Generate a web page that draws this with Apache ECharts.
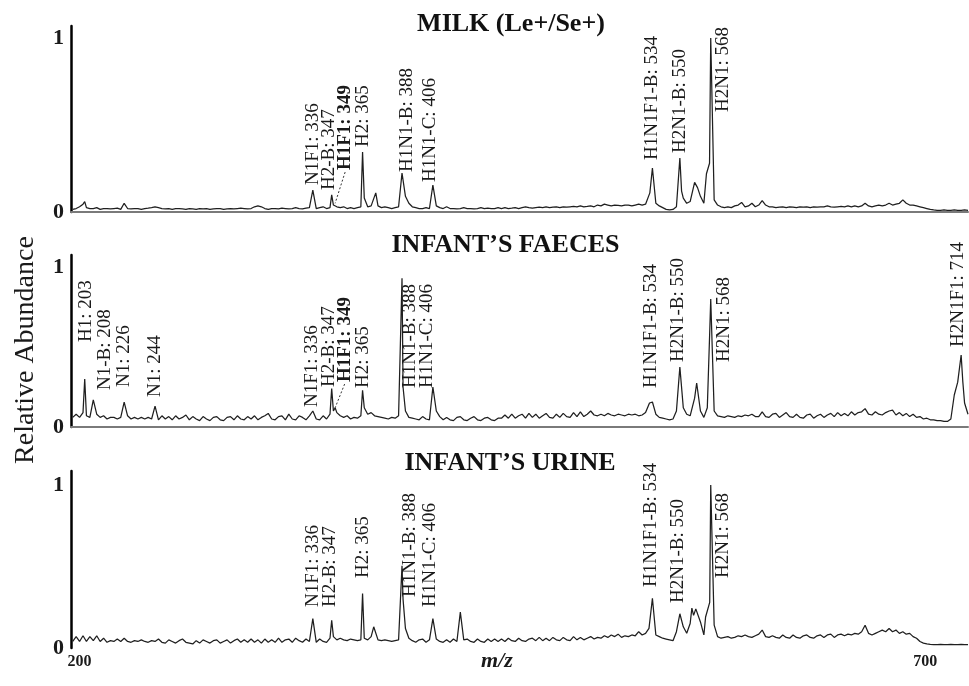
<!DOCTYPE html>
<html>
<head>
<meta charset="utf-8">
<script src="https://cdn.jsdelivr.net/npm/echarts@6/dist/echarts.min.js"></script>
<style>
html, body { margin: 0; padding: 0; background: #fff; }
#chart { width: 969px; height: 686px; }
</style>
</head>
<body>
<div id="chart"></div>
<script>
// m/z window shared by the three spectra
const MZ_MIN = 195;
const MZ_MAX = 718;
const MZ_TICKS = [200, 700];
const ABUNDANCE_TICKS = [0, 1];

// Baseline traces are sampled every 2 m/z starting at 196
const TRACE_START = 196;
const TRACE_STEP = 2;

// ---- MILK (Le+/Se+) ----
const milkTrace = [
  0.015,0.02,0.03,0.045,0.025,0.02,0.02,0.025,0.015,0.02,0.02,0.018,0.02,0.022,0.015,0.045,0.02,0.018,0.02,0.02,0.015,0.02,0.022,0.025,0.03,
  0.025,0.02,0.018,0.02,0.015,0.02,0.02,0.018,0.015,0.02,0.018,0.015,0.02,0.018,0.02,0.015,0.018,0.02,0.02,0.015,0.018,0.02,0.018,0.02,0.022,
  0.02,0.018,0.02,0.03,0.035,0.03,0.02,0.015,0.02,0.02,0.018,0.022,0.02,0.018,0.02,0.025,0.02,0.018,0.022,0.025,0.03,0.02,0.025,0.03,0.02,
  0.025,0.04,0.03,0.025,0.03,0.02,0.025,0.02,0.025,0.03,0.05,0.03,0.035,0.06,0.035,0.025,0.03,0.025,0.02,0.025,0.03,0.05,0.09,0.05,0.03,
  0.025,0.02,0.02,0.025,0.02,0.02,0.035,0.025,0.02,0.03,0.02,0.02,0.018,0.02,0.025,0.02,0.02,0.018,0.02,0.025,0.02,0.022,0.02,0.02,0.025,
  0.02,0.025,0.02,0.022,0.025,0.02,0.025,0.03,0.025,0.022,0.025,0.028,0.025,0.03,0.025,0.028,0.03,0.025,0.03,0.028,0.03,0.032,0.03,0.035,0.03,
  0.032,0.035,0.03,0.04,0.035,0.045,0.04,0.035,0.04,0.038,0.035,0.04,0.04,0.035,0.04,0.045,0.04,0.045,0.1,0.11,0.05,0.035,0.025,0.015,0.012,
  0.015,0.03,0.05,0.08,0.05,0.06,0.07,0.08,0.09,0.05,0.06,0.1,0.07,0.04,0.03,0.025,0.03,0.025,0.035,0.04,0.055,0.03,0.035,0.05,0.03,
  0.04,0.065,0.04,0.03,0.03,0.025,0.028,0.03,0.025,0.03,0.028,0.025,0.03,0.028,0.03,0.025,0.03,0.028,0.03,0.03,0.035,0.03,0.028,0.03,0.032,
  0.03,0.035,0.03,0.035,0.03,0.035,0.05,0.035,0.03,0.035,0.04,0.035,0.04,0.05,0.04,0.045,0.05,0.07,0.05,0.04,0.04,0.035,0.03,0.025,0.02,
  0.015,0.012,0.01,0.01,0.012,0.01,0.01,0.012,0.01,0.01,0.012,0.01
];
const milkPeaks = [
  [203,0.06],[226,0.05],[336,0.126],[347,0.098],[349,0.05],[365,0.345],[366,0.08],[372.7,0.11],
  [388,0.224],[406,0.155],[532.5,0.11],[534,0.253],[550,0.31],[551,0.12],[558.6,0.17],[560.3,0.14],
  [565.5,0.22],[567.3,0.28],[568,1.0]
];
const milkLabels = [
  ['N1F1', 336], ['H2-B', 347], ['H1F1', 349], ['H2', 365], ['H1N1-B', 388],
  ['H1N1-C', 406], ['H1N1F1-B', 534], ['H2N1-B', 550], ['H2N1', 568]
];

// ---- INFANT'S FAECES ----
const faecesTrace = [
  0.06,0.08,0.06,0.09,0.07,0.06,0.07,0.08,0.06,0.07,0.05,0.06,0.06,0.05,0.06,0.07,0.07,0.05,0.06,0.05,0.06,0.05,0.06,0.05,0.06,
  0.045,0.07,0.05,0.065,0.045,0.07,0.05,0.06,0.075,0.045,0.065,0.05,0.04,0.065,0.05,0.04,0.06,0.065,0.045,0.04,0.06,0.065,0.045,0.07,0.05,
  0.045,0.065,0.05,0.07,0.045,0.06,0.07,0.085,0.05,0.045,0.065,0.07,0.045,0.08,0.05,0.045,0.07,0.06,0.045,0.07,0.06,0.05,0.045,0.07,0.05,
  0.08,0.1,0.09,0.07,0.06,0.07,0.05,0.06,0.055,0.07,0.12,0.08,0.09,0.07,0.065,0.06,0.055,0.05,0.06,0.055,0.07,0.2,0.1,0.06,0.055,
  0.05,0.045,0.065,0.05,0.045,0.06,0.1,0.065,0.045,0.06,0.045,0.04,0.06,0.065,0.045,0.04,0.055,0.065,0.045,0.04,0.055,0.06,0.045,0.04,0.055,
  0.055,0.075,0.055,0.08,0.055,0.07,0.08,0.055,0.085,0.06,0.08,0.055,0.07,0.085,0.06,0.055,0.08,0.06,0.085,0.065,0.06,0.09,0.065,0.095,0.065,
  0.08,0.1,0.075,0.07,0.08,0.07,0.085,0.075,0.07,0.08,0.075,0.07,0.08,0.075,0.08,0.07,0.075,0.09,0.1,0.1,0.08,0.06,0.055,0.05,0.045,
  0.05,0.1,0.1,0.12,0.08,0.07,0.12,0.1,0.1,0.06,0.12,0.1,0.1,0.07,0.065,0.06,0.07,0.065,0.06,0.07,0.065,0.075,0.07,0.08,0.065,
  0.065,0.095,0.065,0.06,0.08,0.085,0.06,0.075,0.09,0.065,0.06,0.08,0.06,0.055,0.075,0.08,0.055,0.07,0.08,0.06,0.075,0.085,0.065,0.09,0.07,
  0.085,0.07,0.095,0.075,0.09,0.095,0.115,0.08,0.075,0.095,0.08,0.075,0.09,0.1,0.105,0.075,0.09,0.07,0.085,0.065,0.08,0.06,0.065,0.05,0.055,
  0.045,0.045,0.04,0.04,0.035,0.035,0.05,0.2,0.1,0.1,0.15,0.08
];
const faecesPeaks = [
  [203,0.30],[208,0.17],[226,0.156],[244,0.13],[336,0.10],[347,0.24],[349,0.12],[365,0.23],
  [388,0.93],[388.6,0.25],[406,0.25],[532.3,0.15],[534,0.156],[550,0.375],[558.6,0.18],[559.8,0.275],
  [567.4,0.59],[568,0.80],[712,0.28],[714,0.45],[715,0.28]
];
const faecesLabels = [
  ['H1', 203], ['N1-B', 208], ['N1', 226], ['N1', 244], ['N1F1', 336], ['H2-B', 347], ['H1F1', 349],
  ['H2', 365], ['H1N1-B', 388], ['H1N1-C', 406], ['H1N1F1-B', 534], ['H2N1-B', 550], ['H2N1', 568], ['H2N1F1', 714]
];

// ---- INFANT'S URINE ----
const urineTrace = [
  0.04,0.07,0.04,0.075,0.04,0.07,0.045,0.075,0.04,0.06,0.035,0.045,0.04,0.055,0.04,0.06,0.04,0.035,0.045,0.04,0.05,0.04,0.035,0.045,0.04,
  0.055,0.035,0.03,0.05,0.04,0.03,0.045,0.055,0.035,0.03,0.025,0.045,0.03,0.05,0.04,0.03,0.045,0.05,0.03,0.04,0.05,0.03,0.045,0.055,0.035,
  0.05,0.035,0.055,0.035,0.05,0.03,0.055,0.035,0.05,0.035,0.06,0.035,0.05,0.055,0.035,0.06,0.045,0.035,0.055,0.04,0.06,0.035,0.055,0.04,0.035,
  0.06,0.07,0.05,0.06,0.05,0.045,0.055,0.05,0.045,0.05,0.06,0.05,0.07,0.06,0.05,0.045,0.05,0.045,0.04,0.045,0.05,0.1,0.12,0.06,0.045,
  0.035,0.05,0.055,0.035,0.05,0.04,0.055,0.04,0.035,0.05,0.035,0.055,0.04,0.035,0.05,0.055,0.04,0.035,0.055,0.04,0.035,0.055,0.04,0.055,0.04,
  0.055,0.04,0.06,0.045,0.04,0.06,0.045,0.04,0.055,0.06,0.045,0.065,0.045,0.06,0.045,0.065,0.05,0.045,0.065,0.05,0.045,0.07,0.05,0.065,0.05,
  0.06,0.07,0.055,0.065,0.06,0.075,0.065,0.08,0.07,0.085,0.065,0.075,0.07,0.08,0.075,0.1,0.08,0.09,0.12,0.1,0.08,0.07,0.06,0.055,0.05,
  0.045,0.1,0.1,0.13,0.09,0.15,0.2,0.22,0.16,0.08,0.18,0.1,0.14,0.07,0.06,0.065,0.07,0.06,0.065,0.075,0.07,0.08,0.07,0.065,0.075,
  0.085,0.11,0.07,0.065,0.075,0.065,0.06,0.08,0.065,0.06,0.08,0.065,0.06,0.075,0.08,0.065,0.06,0.075,0.08,0.065,0.08,0.085,0.065,0.08,0.085,
  0.075,0.085,0.08,0.09,0.085,0.1,0.14,0.09,0.08,0.09,0.1,0.11,0.1,0.12,0.1,0.11,0.09,0.1,0.085,0.09,0.07,0.06,0.04,0.03,0.025,
  0.022,0.02,0.02,0.022,0.02,0.02,0.022,0.02,0.02,0.022,0.02,0.02
];
const urinePeaks = [
  [336,0.18],[347,0.17],[365,0.335],[371.5,0.13],[388,0.505],[388.6,0.3],[406,0.18],[422,0.22],
  [534,0.305],[550,0.21],[557,0.245],[559.3,0.24],[565,0.19],[567.4,0.28],[568,1.0]
];
const urineLabels = [
  ['N1F1', 336], ['H2-B', 347], ['H2', 365], ['H1N1-B', 388], ['H1N1-C', 406],
  ['H1N1F1-B', 534], ['H2N1-B', 550], ['H2N1', 568]
];

// Annotation placement: height of the label foot (abundance units) and sideways nudge (px)
const milkLabelPlace = [[0.155,0],[0.126,-3],[0.241,10],[0.374,0],[0.23,5],[0.172,-3],[0.299,0],[0.339,0],[0.575,12]];
const faecesLabelPlace = [[0.531,1],[0.231,12],[0.25,0],[0.1875,0],[0.125,-1],[0.25,-3],[0.281,9.5],[0.244,0],[0.244,8.5],[0.244,-5.5],[0.244,-1],[0.406,-1.5],[0.406,13],[0.5,-3]];
const urineLabelPlace = [[0.252,0],[0.252,-2],[0.43,0],[0.313,8.5],[0.252,-2.5],[0.374,-1],[0.276,-1.5],[0.43,12]];

const SERIF = '"Liberation Serif", "Times New Roman", serif';
const INK = '#1a1a1a';

const panels = [
  { title: 'MILK (Le+/Se+)', trace: milkTrace, peaks: milkPeaks, labels: milkLabels, place: milkLabelPlace,
    grid: { top: 26, height: 186 }, yMax: 1.069, titlePos: [511, 24], baseLine: true, mzLabels: false },
  { title: 'INFANT\u2019S FAECES', trace: faecesTrace, peaks: faecesPeaks, labels: faecesLabels, place: faecesLabelPlace,
    grid: { top: 255, height: 172 }, yMax: 1.075, titlePos: [505.5, 245], baseLine: true, mzLabels: false },
  { title: 'INFANT\u2019S URINE', trace: urineTrace, peaks: urinePeaks, labels: urineLabels, place: urineLabelPlace,
    grid: { top: 471, height: 177 }, yMax: 1.086, titlePos: [510, 463.5], baseLine: false, mzLabels: true }
];

// Merge the sampled baseline with the centroid peaks into one spectrum trace
function buildSpectrum(trace, peaks) {
  const pts = [];
  trace.forEach(function (v, i) {
    const mz = TRACE_START + i * TRACE_STEP;
    const nearPeak = peaks.some(function (p) { return Math.abs(p[0] - mz) < 0.75; });
    if (!nearPeak) pts.push([mz, v]);
  });
  peaks.forEach(function (p) { pts.push([p[0], p[1]]); });
  pts.sort(function (a, b) { return a[0] - b[0]; });
  return pts;
}

function peakHeight(peaks, mz) {
  for (let i = 0; i < peaks.length; i++) if (peaks[i][0] === mz) return peaks[i][1];
  return 0;
}

const grids = [], xAxes = [], yAxes = [], series = [], graphics = [];

panels.forEach(function (p, k) {
  grids.push({ left: 71, right: 1, top: p.grid.top, height: p.grid.height, containLabel: false });

  xAxes.push({
    type: 'value', gridIndex: k, min: MZ_MIN, max: MZ_MAX,
    axisLine: { show: p.baseLine, onZero: false, lineStyle: { color: '#7a7a7a', width: 2 } },
    axisTick: { show: false },
    splitLine: { show: false },
    axisLabel: {
      show: p.mzLabels, customValues: MZ_TICKS, margin: 6,
      alignMaxLabel: 'right',
      fontFamily: SERIF, fontWeight: 'bold', fontSize: 16, color: INK
    }
  });

  yAxes.push({
    type: 'value', gridIndex: k, min: 0, max: p.yMax,
    axisLine: { show: true, lineStyle: { color: '#000', width: 2.5 } },
    axisTick: { show: false },
    splitLine: { show: false },
    axisLabel: {
      customValues: ABUNDANCE_TICKS, margin: 7,
      fontFamily: SERIF, fontWeight: 'bold', fontSize: 22, color: INK
    }
  });

  series.push({
    type: 'line', xAxisIndex: k, yAxisIndex: k,
    data: buildSpectrum(p.trace, p.peaks),
    showSymbol: false, symbol: 'none',
    lineStyle: { color: '#1f1f1f', width: 1.25 },
    silent: true, z: 3
  });

  series.push({
    type: 'custom', xAxisIndex: k, yAxisIndex: k, clip: false, silent: true, z: 4,
    data: p.labels.map(function (l, i) { return [l[1], p.place[i][0]]; }),
    renderItem: function (params, api) {
      const lab = p.labels[params.dataIndex];
      const dx = p.place[params.dataIndex][1];
      const foot = api.coord([api.value(0), api.value(1)]);
      const x = foot[0] + dx, y = foot[1];
      const bold = lab[0] === 'H1F1';
      const children = [{
        type: 'text', x: x, y: y, rotation: Math.PI / 2,
        style: {
          text: lab[0] + ': ' + lab[1],
          fontFamily: SERIF, fontSize: 19, fontWeight: bold ? 'bold' : 'normal',
          fill: INK, align: 'left', verticalAlign: 'middle'
        }
      }];
      if (bold) {
        const tip = api.coord([lab[1], peakHeight(p.peaks, lab[1])]);
        children.push({
          type: 'line',
          shape: { x1: x, y1: y + 2, x2: tip[0], y2: tip[1] },
          style: { stroke: '#333', lineWidth: 1, lineDash: [2, 2] }
        });
      }
      return { type: 'group', children: children };
    }
  });

  graphics.push({
    type: 'text', x: p.titlePos[0], y: p.titlePos[1],
    style: { text: p.title, fontFamily: SERIF, fontWeight: 'bold', fontSize: 26, fill: '#111', align: 'center', verticalAlign: 'middle' }
  });
});

graphics.push({
  type: 'text', x: 26, y: 350, rotation: Math.PI / 2,
  style: { text: 'Relative Abundance', fontFamily: SERIF, fontSize: 28, fill: INK, align: 'center', verticalAlign: 'middle' }
});
graphics.push({
  type: 'text', x: 497, y: 661,
  style: { text: 'm/z', fontFamily: SERIF, fontWeight: 'bold', fontStyle: 'italic', fontSize: 22, fill: INK, align: 'center', verticalAlign: 'middle' }
});

const chart = echarts.init(document.getElementById('chart'), null, { renderer: 'canvas' });
chart.setOption({
  animation: false,
  backgroundColor: '#fff',
  grid: grids,
  xAxis: xAxes,
  yAxis: yAxes,
  series: series,
  graphic: graphics
});
</script>
</body>
</html>
